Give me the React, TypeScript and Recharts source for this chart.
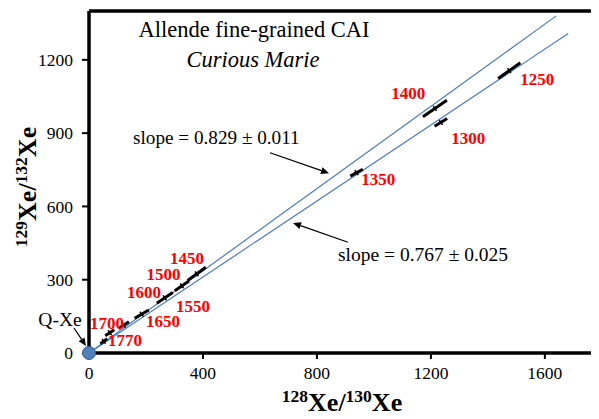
import React from "react";
import { ComposedChart, Scatter, XAxis, YAxis, ReferenceLine, ReferenceDot, Label } from "recharts";

const xTicks = [0, 400, 800, 1200, 1600];
const yTicks = [0, 300, 600, 900, 1200];

// release steps (°C) with 128Xe/130Xe and 129Xe/132Xe centres
const steps = ["1250", "1300", "1350", "1400", "1450", "1500", "1550", "1600", "1650", "1700", "1770"];
const xe128 = [1475, 1235, 939, 1214, 378, 326, 266, 185, 122, 73, 52];
const xe129 = [1156, 944, 738, 1001, 324, 275, 226, 159, 114, 83, 48];
// half length of the correlated error bar, in axis units
const errX = [39, 22, 22, 42, 32, 25, 28, 25, 18, 16, 12];
const errY = [32, 16, 14, 34, 27, 20, 22, 17, 14, 12, 10];

const qXe = { x: 0, y: 0 };
const fitUpper = [{ x: 0, y: 0 }, { x: 1640, y: 1380 }]; // slope 0.829
const fitLower = [{ x: 0, y: 0 }, { x: 1682, y: 1308 }]; // slope 0.767

const SERIF = "'Liberation Serif', 'Times New Roman', serif";
const BLUE = "#4A7EBB";

// where each step label sits relative to its point (px)
const labelOffset: [number, number][] = [
  [28, 8.5], [27.4, 16.6], [21.7, 6.3], [-26.6, -14.5], [-9.6, -15.3], [-18.3, -11.3],
  [28.3, 8.7], [2.3, -21.2], [39.3, -3.6], [-2.8, -9.7], [21.2, -0.8],
];

const points = steps.map((s, i) => ({ x: xe128[i], y: xe129[i], label: s, i }));

function StepLabel(props: any) {
  const { cx, cy, payload } = props;
  const [dx, dy] = labelOffset[payload.i];
  return (
    <text
      x={cx + dx}
      y={cy + dy}
      textAnchor="middle"
      dominantBaseline="central"
      fill="#FF0000"
      fontWeight="bold"
      fontSize={17}
      style={{ fontFamily: SERIF }}
    >
      {payload.label}
    </text>
  );
}

function Arrow({ x1, y1, x2, y2 }: { x1: number; y1: number; x2: number; y2: number }) {
  const a = Math.atan2(y2 - y1, x2 - x1);
  const len = 8;
  const w = 3.5;
  const bx = x2 - len * Math.cos(a);
  const by = y2 - len * Math.sin(a);
  const px = -Math.sin(a) * w;
  const py = Math.cos(a) * w;
  return (
    <g>
      <line x1={x1} y1={y1} x2={bx} y2={by} stroke="#000" strokeWidth={1.2} />
      <polygon points={`${x2},${y2} ${bx + px},${by + py} ${bx - px},${by - py}`} fill="#000" />
    </g>
  );
}

const XTitle = () => (
  <text x={342} y={411} textAnchor="middle" fontWeight="bold" fill="#000" style={{ fontFamily: SERIF }}>
    <tspan fontSize={17.5} dy={-9}>128</tspan>
    <tspan fontSize={26} dy={9}>Xe/</tspan>
    <tspan fontSize={17.5} dy={-9}>130</tspan>
    <tspan fontSize={26} dy={9}>Xe</tspan>
  </text>
);

const YTitle = () => (
  <text
    x={0}
    y={0}
    transform="translate(36,187) rotate(-90)"
    textAnchor="middle"
    fontWeight="bold"
    fill="#000"
    style={{ fontFamily: SERIF }}
  >
    <tspan fontSize={17.5} dy={-9}>129</tspan>
    <tspan fontSize={26} dy={9}>Xe/</tspan>
    <tspan fontSize={17.5} dy={-9}>132</tspan>
    <tspan fontSize={26} dy={9}>Xe</tspan>
  </text>
);

export default function App() {
  const tickStyle = { fontSize: 17.5, fill: "#000", style: { fontFamily: SERIF } };
  const txt = { fill: "#000", style: { fontFamily: SERIF } };
  return (
    <div style={{ margin: -8, width: 599, height: 419, background: "#fff", fontFamily: SERIF }}>
      <ComposedChart width={599} height={419} margin={{ top: 11, right: 0, left: 0, bottom: 0 }}>
        <XAxis
          dataKey="x"
          type="number"
          domain={[0, 1790]}
          ticks={xTicks}
          height={66}
          tickSize={6}
          tickMargin={8}
          axisLine={{ stroke: "#000", strokeWidth: 3.5 }}
          tickLine={{ stroke: "#000", strokeWidth: 2 }}
          tick={tickStyle}
        >
          <Label content={() => <XTitle />} />
        </XAxis>
        <YAxis
          dataKey="y"
          type="number"
          domain={[0, 1400]}
          ticks={yTicks}
          width={89}
          tickSize={7}
          tickMargin={9}
          axisLine={{ stroke: "#000", strokeWidth: 3.5 }}
          tickLine={{ stroke: "#000", strokeWidth: 2 }}
          tick={tickStyle}
        >
          <Label content={() => <YTitle />} />
        </YAxis>

        <ReferenceLine y={1400} stroke="#000" strokeWidth={3.5} ifOverflow="visible" />

        {/* isochron fits */}
        <ReferenceLine segment={fitUpper} stroke={BLUE} strokeWidth={1.2} ifOverflow="visible" />
        <ReferenceLine segment={fitLower} stroke={BLUE} strokeWidth={1.2} ifOverflow="visible" />

        {/* correlated error bars */}
        {points.map((p) => (
          <ReferenceLine
            key={"e" + p.label}
            segment={[
              { x: p.x - errX[p.i], y: p.y - errY[p.i] },
              { x: p.x + errX[p.i], y: p.y + errY[p.i] },
            ]}
            stroke="#000"
            strokeWidth={3}
            ifOverflow="visible"
          />
        ))}
        {points.map((p) => (
          <ReferenceLine
            key={"c" + p.label}
            segment={[
              { x: p.x - 6, y: p.y + 10 },
              { x: p.x + 6, y: p.y - 10 },
            ]}
            stroke="#000"
            strokeWidth={1.5}
            ifOverflow="visible"
          />
        ))}

        <Scatter data={points} shape={StepLabel} isAnimationActive={false} />
        <ReferenceDot
          x={qXe.x}
          y={qXe.y}
          r={6.5}
          fill="#4F81BD"
          stroke="#385D8A"
          strokeWidth={1}
          ifOverflow="visible"
        />

        <g>
          <text x={254} y={37} textAnchor="middle" fontSize={22.5} {...txt}>Allende fine-grained CAI</text>
          <text x={253} y={67} textAnchor="middle" fontSize={22.5} fontStyle="italic" {...txt}>Curious Marie</text>
          <text x={133} y={144} fontSize={19.2} {...txt}>slope = 0.829 ± 0.011</text>
          <text x={338} y={261} fontSize={19.5} {...txt}>slope = 0.767 ± 0.025</text>
          <text x={60} y={326} textAnchor="middle" fontSize={19.5} {...txt}>Q-Xe</text>
        </g>
        <Arrow x1={270} y1={152.7} x2={329} y2={173.3} />
        <Arrow x1={348} y1={242.3} x2={293} y2={223} />
        <Arrow x1={74} y1={328} x2={86} y2={346} />
      </ComposedChart>
    </div>
  );
}
